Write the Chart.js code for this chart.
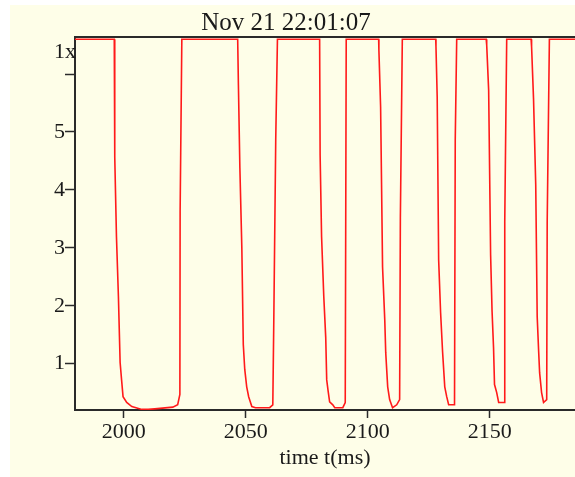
<!DOCTYPE html>
<html>
<head>
<meta charset="utf-8">
<script src="https://cdn.jsdelivr.net/npm/chart.js@4"></script>
<style>
  html, body { margin: 0; padding: 0; background: #ffffff; }
  #wrap { position: absolute; left: 10px; top: 5px; }
  #scope { background: #fefee8; display: block; }
</style>
</head>
<body>
<div id="wrap"><canvas id="scope" width="565" height="472"></canvas></div>
<script>
// trace (time in ms, signal value)
var timeMs = [
  1980, 1996.1, 1996.3, 1997.0, 1997.8, 1998.5, 1999.1, 1999.7, 2001.2, 2003.3, 2007.4, 2010.0, 2012.7, 2020.1, 2022.1, 2023.0, 2023.1, 2023.8,
  2046.7, 2047.0, 2047.6, 2048.4, 2049.0, 2049.6, 2050.4, 2051.2, 2052.5, 2054.0, 2059.8, 2061.1, 2061.5, 2062.3, 2063.0,
  2080.3, 2080.5, 2081.1, 2082.0, 2082.8, 2083.2, 2083.8, 2084.4, 2085.7, 2086.5, 2089.8, 2090.8, 2091.2,
  2104.5, 2104.6, 2105.3, 2106.1, 2107.0, 2107.4, 2108.2, 2109.0, 2110.2, 2111.9, 2113.1, 2113.4, 2114.2,
  2127.9, 2128.0, 2128.5, 2129.1, 2129.9, 2130.7, 2131.6, 2132.4, 2133.2, 2135.6, 2135.9, 2136.5,
  2148.6, 2148.8, 2149.6, 2150.4, 2151.0, 2151.6, 2152.0, 2152.9, 2153.7, 2156.0, 2156.2, 2157.0,
  2167.0, 2167.2, 2168.0, 2168.9, 2169.5, 2170.1, 2170.5, 2171.3, 2172.1, 2173.4, 2173.6, 2174.5, 2185
];
var signal = [
  6.6, 6.6, 4.57, 3.19, 2.16, 1.02, 0.72, 0.43, 0.33, 0.26, 0.21, 0.21, 0.22, 0.25, 0.29, 0.47, 3.62, 6.6,
  6.6, 5.81, 4.38, 3.0, 1.33, 0.9, 0.6, 0.43, 0.26, 0.24, 0.24, 0.29, 1.72, 4.86, 6.6,
  6.6, 4.6, 3.19, 2.16, 1.45, 0.72, 0.52, 0.34, 0.29, 0.24, 0.24, 0.33, 6.6,
  6.6, 6.41, 5.43, 2.67, 1.76, 1.19, 0.6, 0.38, 0.24, 0.29, 0.38, 3.52, 6.6,
  6.6, 6.47, 5.6, 2.79, 1.88, 1.21, 0.6, 0.43, 0.29, 0.29, 4.86, 6.6,
  6.6, 6.5, 5.72, 2.88, 1.9, 1.28, 0.64, 0.5, 0.33, 0.33, 3.45, 6.6,
  6.6, 6.47, 5.57, 4.09, 1.81, 1.21, 0.84, 0.5, 0.33, 0.38, 3.45, 6.6, 6.6
];
var xTicks = [2000, 2050, 2100, 2150];
var yTicks = [1, 2, 3, 4, 5, 6];
var yTickLabels = ['1', '2', '3', '4', '5', ''];
var scaleMark = { value: 6.38, text: '1x' };   // odd leftover label near the top of the y axis
var titleText = 'Nov 21 22:01:07';

var serif = '"Liberation Serif", "Times New Roman", serif';
var axisColor = '#2a2a2a';
var textColor = '#1a1a1a';

var points = timeMs.map(function (t, i) { return { x: t, y: signal[i] }; });

// title sits a bit left of centre in the original, and "1x" hugs the axis
var scopeText = {
    id: 'scopeText',
    afterDraw: function (chart) {
        var c = chart.ctx;
        var y = chart.scales.y;
        c.save();
        c.fillStyle = textColor;
        c.font = '25px ' + serif;
        c.textAlign = 'center';
        c.textBaseline = 'alphabetic';
        c.fillText(titleText, 276, 25);
        c.font = '22px ' + serif;
        c.textAlign = 'right';
        c.textBaseline = 'middle';
        c.fillText(scaleMark.text, chart.chartArea.left + 1, y.getPixelForValue(scaleMark.value));
        c.restore();
    }
};

document.addEventListener('DOMContentLoaded', function () {
    var ctx = document.getElementById('scope').getContext('2d');

    new Chart(ctx, {
        type: 'line',
        data: {
            datasets: [{
                data: points,
                borderColor: '#ff1a1a',
                borderWidth: 1.6,
                pointRadius: 0,
                tension: 0,
                fill: false
            }]
        },
        options: {
            responsive: false,
            animation: false,
            layout: { padding: { top: 32, left: 0, right: 0, bottom: 0 } },
            plugins: {
                legend: { display: false },
                tooltip: { enabled: false },
                title: { display: false }
            },
            scales: {
                x: {
                    type: 'linear',
                    min: 1980,
                    max: 2185,
                    afterBuildTicks: function (scale) {
                        scale.ticks = xTicks.map(function (v) { return { value: v }; });
                    },
                    afterFit: function (scale) { scale.height = 67; },
                    grid: { display: true, drawOnChartArea: false, tickLength: 8, tickColor: axisColor, tickWidth: 1.5 },
                    border: { color: axisColor, width: 2 },
                    ticks: {
                        color: textColor,
                        padding: 1,
                        maxRotation: 0,
                        font: { family: serif, size: 22 },
                        callback: function (v) { return String(v); }
                    },
                    title: {
                        display: true,
                        text: 'time t(ms)',
                        color: textColor,
                        font: { family: serif, size: 22, lineHeight: 1.2 },
                        padding: { top: 0, bottom: 5.8 }
                    }
                },
                xTop: {
                    type: 'linear',
                    position: 'top',
                    min: 1980,
                    max: 2185,
                    afterFit: function (scale) { scale.height = 0; },
                    grid: { display: false },
                    border: { display: true, color: axisColor, width: 2 },
                    ticks: { display: false }
                },
                y: {
                    min: 0.2,
                    max: 6.64,
                    afterBuildTicks: function (scale) {
                        scale.ticks = yTicks.map(function (v) { return { value: v }; });
                    },
                    afterFit: function (scale) { scale.width = 65; },
                    grid: { display: true, drawOnChartArea: false, tickLength: 10, tickWidth: 1.5, tickColor: axisColor },
                    border: { color: axisColor, width: 2 },
                    ticks: {
                        color: textColor,
                        padding: 0,
                        font: { family: serif, size: 22 },
                        callback: function (v, i) { return yTickLabels[i]; }
                    }
                }
            }
        },
        plugins: [scopeText]
    });
});
</script>
</body>
</html>
